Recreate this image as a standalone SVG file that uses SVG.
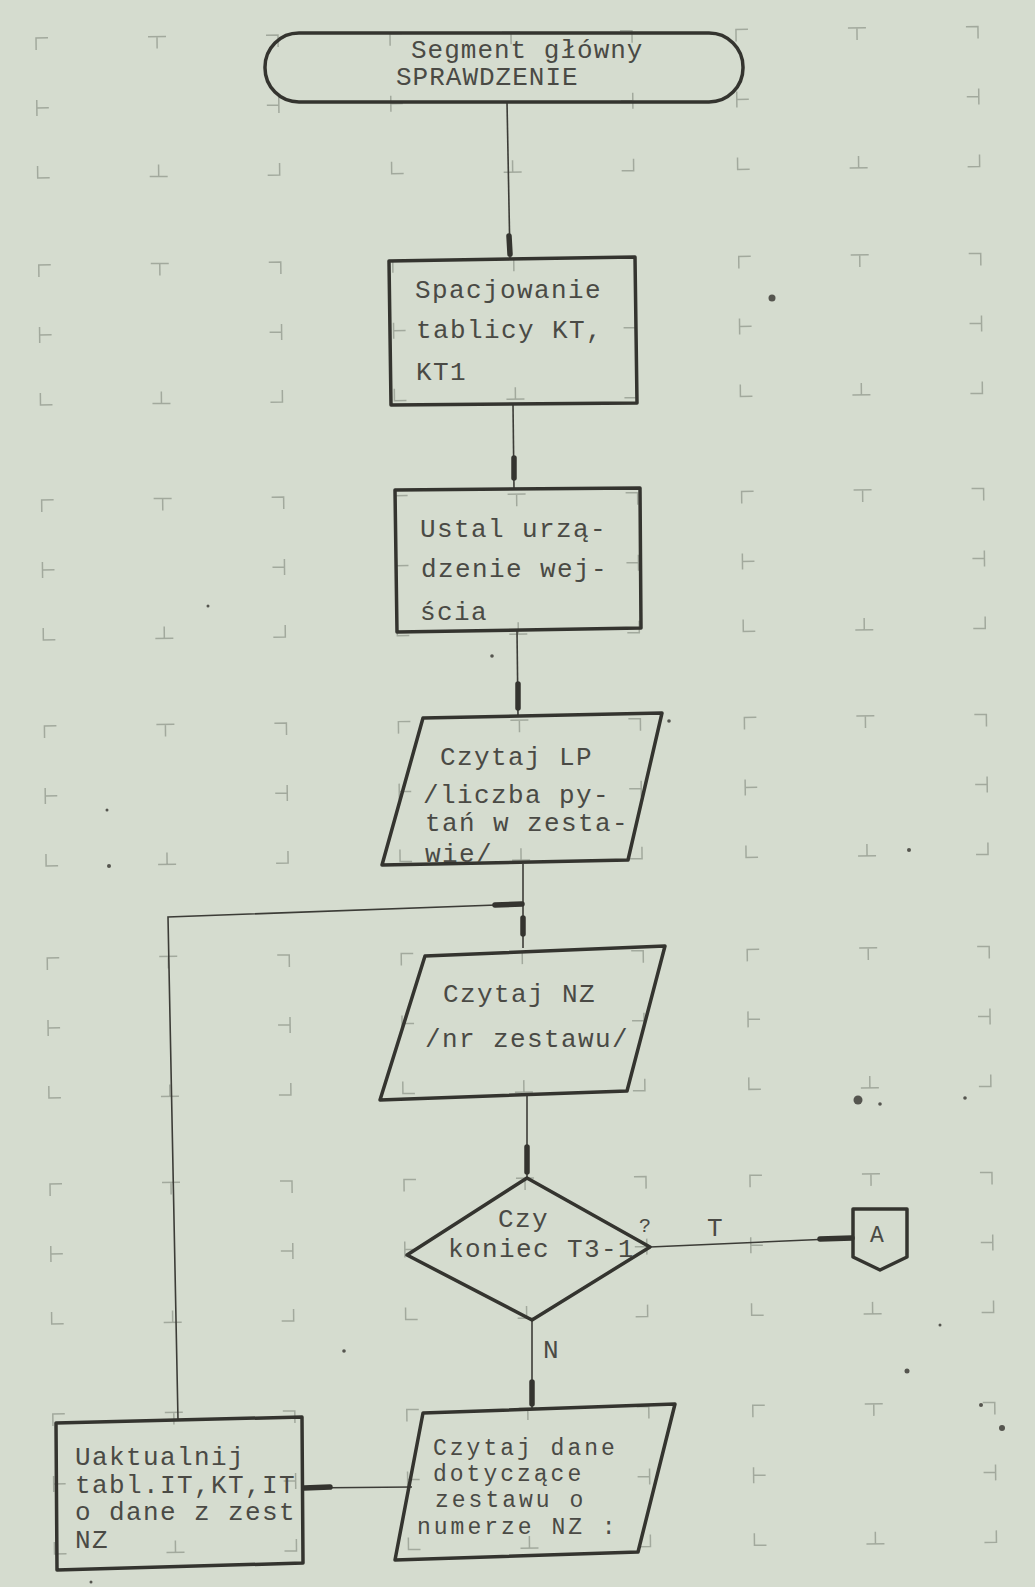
<svg xmlns="http://www.w3.org/2000/svg" xmlns:xlink="http://www.w3.org/1999/xlink" width="1035" height="1587" viewBox="0 0 1035 1587">
<style>
.t{font-family:"Liberation Mono","DejaVu Sans Mono",monospace;font-size:26px;letter-spacing:1.4px;fill:#4a4a45}
.sm{font-size:23px;letter-spacing:3px}
.s{fill:none;stroke:#34342f;stroke-width:3.5;stroke-linejoin:round}
.c{fill:none;stroke:#3c3c37;stroke-width:1.6}
.a{stroke:#34342f;stroke-width:5.5;stroke-linecap:round}
.m{fill:none;stroke:#a2a99d;stroke-width:1.5}
.d{fill:#55554f}
</style>
<defs>
<path id="cell" class="m" d="M0,12V0H12M230,0H242V12M0,128V140H12M230,140H242V128M112,0H130M121,0V12M112,140H130M121,140V128M0,62V78M0,70H12M242,62V78M242,70H230"/>
</defs>
<rect width="1035" height="1587" fill="#d5dccf"/>
<g id="template" transform="rotate(-0.7 36 38)">
<use xlink:href="#cell" x="36" y="38"/><use xlink:href="#cell" x="390" y="38"/><use xlink:href="#cell" x="736" y="38"/>
<use xlink:href="#cell" x="36" y="265"/><use xlink:href="#cell" x="390" y="265"/><use xlink:href="#cell" x="736" y="265"/>
<use xlink:href="#cell" x="36" y="500"/><use xlink:href="#cell" x="390" y="500"/><use xlink:href="#cell" x="736" y="500"/>
<use xlink:href="#cell" x="36" y="726"/><use xlink:href="#cell" x="390" y="726"/><use xlink:href="#cell" x="736" y="726"/>
<use xlink:href="#cell" x="36" y="958"/><use xlink:href="#cell" x="390" y="958"/><use xlink:href="#cell" x="736" y="958"/>
<use xlink:href="#cell" x="36" y="1184"/><use xlink:href="#cell" x="390" y="1184"/><use xlink:href="#cell" x="736" y="1184"/>
<use xlink:href="#cell" x="36" y="1414"/><use xlink:href="#cell" x="390" y="1414"/><use xlink:href="#cell" x="736" y="1414"/>
</g>
<g id="specks">
<circle class="d" cx="772" cy="298" r="3.5"/>
<circle class="d" cx="858" cy="1100" r="4.5"/>
<circle class="d" cx="880" cy="1104" r="1.8"/>
<circle class="d" cx="965" cy="1098" r="1.8"/>
<circle class="d" cx="907" cy="1371" r="2.5"/>
<circle class="d" cx="1002" cy="1428" r="3"/>
<circle class="d" cx="981" cy="1405" r="2"/>
<circle class="d" cx="909" cy="850" r="2"/>
<circle class="d" cx="109" cy="866" r="2"/>
<circle class="d" cx="107" cy="810" r="1.5"/>
<circle class="d" cx="208" cy="606" r="1.5"/>
<circle class="d" cx="492" cy="656" r="1.8"/>
<circle class="d" cx="669" cy="721" r="1.8"/>
<circle class="d" cx="344" cy="1351" r="1.8"/>
<circle class="d" cx="940" cy="1325" r="1.5"/>
<circle class="d" cx="91" cy="1582" r="1.5"/>
</g>
<g id="connectors">
<polyline class="c" points="507,102 510,258"/>
<line class="a" x1="509" y1="236" x2="510" y2="254"/>
<polyline class="c" points="513,405 514,489"/>
<line class="a" x1="514" y1="458" x2="514" y2="478"/>
<polyline class="c" points="517,631 518,716"/>
<line class="a" x1="518" y1="684" x2="518" y2="708"/>
<polyline class="c" points="523,864 523,948"/>
<line class="a" x1="523" y1="918" x2="523" y2="934"/>
<polyline class="c" points="178,1420 168,917 523,904"/>
<line class="a" x1="495" y1="905" x2="522" y2="904"/>
<polyline class="c" points="527,1095 527,1178"/>
<line class="a" x1="527" y1="1147" x2="527" y2="1172"/>
<polyline class="c" points="650,1247 853,1238"/>
<line class="a" x1="820" y1="1239" x2="852" y2="1238"/>
<text class="t" x="707" y="1236">T</text>
<polyline class="c" points="532,1320 532,1409"/>
<line class="a" x1="532" y1="1382" x2="532" y2="1404"/>
<text class="t" x="543" y="1358">N</text>
<polyline class="c" points="412,1487 302,1488"/>
<line class="a" x1="304" y1="1488" x2="330" y2="1487"/>
</g>
<g id="start">
<rect class="s" x="265" y="33" width="478" height="69" rx="34" ry="34"/>
<text class="t" x="411" y="58" style="letter-spacing:1px">Segment główny</text>
<text class="t" x="396" y="85" style="letter-spacing:1px">SPRAWDZENIE</text>
</g>
<g id="spacjowanie">
<polygon class="s" points="389,261 635,257 637,403 391,405"/>
<text class="t" x="415" y="298">Spacjowanie</text>
<text class="t" x="416" y="338">tablicy KT,</text>
<text class="t" x="416" y="380">KT1</text>
</g>
<g id="ustal">
<polygon class="s" points="395,490 640,488 641,628 397,632"/>
<text class="t" x="420" y="537">Ustal urzą-</text>
<text class="t" x="421" y="577">dzenie wej-</text>
<text class="t" x="420" y="620">ścia</text>
</g>
<g id="czytaj-lp">
<polygon class="s" points="423,718 662,713 628,860 382,865"/>
<text class="t" x="440" y="765">Czytaj LP</text>
<text class="t" x="423" y="803">/liczba py-</text>
<text class="t" x="425" y="831">tań w zesta-</text>
<text class="t" x="425" y="862">wie/</text>
</g>
<g id="czytaj-nz">
<polygon class="s" points="425,956 665,946 627,1091 380,1100"/>
<text class="t" x="443" y="1002">Czytaj NZ</text>
<text class="t" x="425" y="1047">/nr zestawu/</text>
</g>
<g id="decyzja">
<polygon class="s" points="527,1178 650,1247 532,1320 407,1255"/>
<text class="t" x="498" y="1227">Czy</text>
<text class="t" x="448" y="1257">koniec T3-1</text>
<text class="t" x="639" y="1232" style="font-size:20px">?</text>
</g>
<g id="lacznik-a">
<polygon class="s" points="853,1209 907,1209 907,1257 880,1270 853,1257"/>
<text class="t" x="870" y="1242" style="font-size:23px;letter-spacing:0">A</text>
</g>
<g id="czytaj-dane">
<polygon class="s" points="423,1413 675,1404 638,1552 395,1560"/>
<text class="t sm" x="433" y="1455">Czytaj dane</text>
<text class="t sm" x="433" y="1481">dotyczące</text>
<text class="t sm" x="435" y="1507">zestawu o</text>
<text class="t sm" x="417" y="1534">numerze NZ :</text>
</g>
<g id="uaktualnij">
<polygon class="s" points="56,1423 302,1417 303,1563 57,1570"/>
<text class="t" x="75" y="1465">Uaktualnij</text>
<text class="t" x="75" y="1493">tabl.IT,KT,IT</text>
<text class="t" x="75" y="1520">o dane z zest</text>
<text class="t" x="75" y="1548">NZ</text>
</g>
</svg>
